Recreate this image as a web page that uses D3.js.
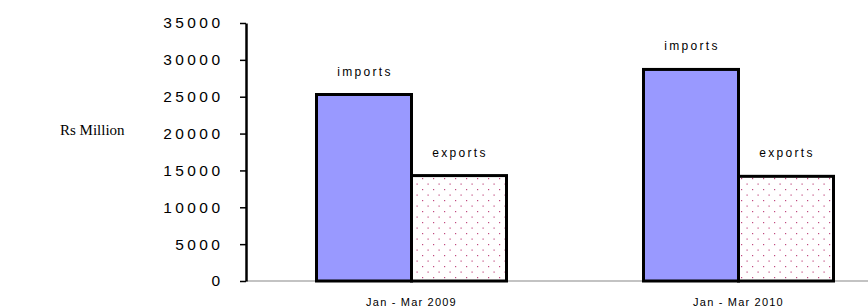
<!DOCTYPE html>
<html><head><meta charset="utf-8">
<script src="https://cdn.jsdelivr.net/npm/d3@7"></script>
<style>body{margin:0;background:#fff}svg{display:block}</style>
</head><body>
<script>
const categories = ["Jan - Mar 2009", "Jan - Mar 2010"];
const seriesNames = ["imports", "exports"];
const imports = [25300, 28700];
const exports = [14300, 14200];
const yTicks = [0, 5000, 10000, 15000, 20000, 25000, 30000, 35000];
const yLabel = "Rs Million";

const W = 868, H = 308;
const svg = d3.select("body").append("svg").attr("width", W).attr("height", H);
const defs = svg.append("defs");
const pat = defs.append("pattern").attr("id", "dots").attr("patternUnits", "userSpaceOnUse")
  .attr("width", 11).attr("height", 11);
pat.append("rect").attr("width", 11).attr("height", 11).attr("fill", "#fff");
pat.append("rect").attr("x", 4).attr("y", 2).attr("width", 1.2).attr("height", 1.2).attr("fill", "#c04a80");
pat.append("rect").attr("x", 9.5).attr("y", 7.5).attr("width", 1.2).attr("height", 1.2).attr("fill", "#c04a80");

const x = d3.scaleBand().domain(categories).range([248, 902]).padding(0);
const y = d3.scaleLinear().domain([0, 35000]).range([281, 23]);
const barW = 95;

// x baseline
svg.append("line").attr("x1", 246).attr("x2", 868).attr("y1", y(0)).attr("y2", y(0))
  .attr("stroke", "#888").attr("stroke-width", 1.2);

const data = [];
categories.forEach((c, i) => {
  data.push({c, s: seriesNames[0], v: imports[i], off: -barW});
  data.push({c, s: seriesNames[1], v: exports[i], off: 0});
});

const cx = c => x(c) + x.bandwidth() / 2;

svg.selectAll("rect.bar").data(data).enter().append("rect").attr("class", "bar")
  .attr("x", d => cx(d.c) + d.off)
  .attr("y", d => y(d.v))
  .attr("width", barW)
  .attr("height", d => y(0) - y(d.v))
  .attr("fill", d => d.s === "imports" ? "#9999ff" : "url(#dots)")
  .attr("stroke", "#000").attr("stroke-width", 3);

svg.selectAll("text.blab").data(data).enter().append("text").attr("class", "blab")
  .attr("x", d => cx(d.c) + d.off + barW / 2 + 1)
  .attr("y", d => y(d.v) - 19)
  .attr("text-anchor", "middle")
  .attr("font-family", "Liberation Sans, Arial, sans-serif")
  .attr("font-size", 12).style("letter-spacing", "2.3px")
  .text(d => d.s);

// y axis
const yAxis = d3.axisLeft(y).tickValues(yTicks).tickSize(6).tickSizeOuter(0).tickFormat(d3.format("d"));
const gy = svg.append("g").attr("transform", "translate(246,0)").call(yAxis);
gy.select(".domain").attr("stroke", "#000").attr("stroke-width", 2.5);
gy.selectAll(".tick line").attr("stroke", "#000").attr("stroke-width", 1.5);
gy.selectAll(".tick text").attr("x", -22.6).attr("fill", "#000")
  .attr("font-family", "Liberation Sans, Arial, sans-serif")
  .attr("font-size", 15.5).style("letter-spacing", "3.4px");

// x labels
const xAxis = d3.axisBottom(x).tickSize(0);
const gx = svg.append("g").attr("transform", `translate(0,${y(0)})`).call(xAxis);
gx.select(".domain").remove();
gx.selectAll(".tick text").attr("y", 25).attr("dy", 0).attr("fill", "#000")
  .attr("font-family", "Liberation Sans, Arial, sans-serif")
  .attr("font-size", 11).style("letter-spacing", "1.2px");

svg.append("text").attr("x", 60).attr("y", 135)
  .attr("font-family", "Liberation Serif, Times New Roman, serif")
  .attr("font-size", 15).text(yLabel);
</script>
</body></html>
